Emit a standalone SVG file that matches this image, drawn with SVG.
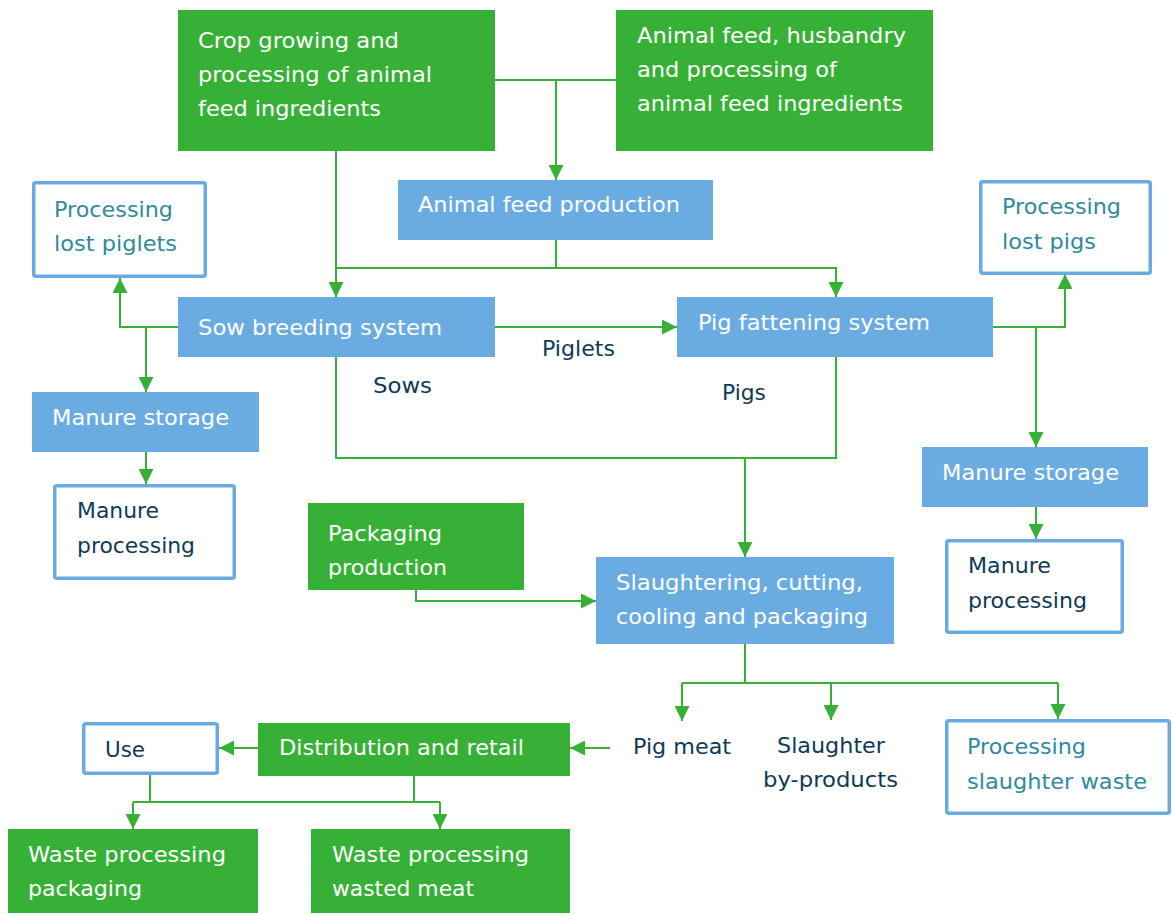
<svg xmlns="http://www.w3.org/2000/svg" width="1172" height="914" viewBox="0 0 1172 914">
  <style>
    text { font-family: "DejaVu Sans", Verdana, sans-serif; font-size: 22px; }
    .green { fill: #36b136; }
    .blue { fill: #6aace2; }
    .frame { fill: #ffffff; stroke: #6aaae2; stroke-width: 3.5; }
    .light { fill: #ffffff; }
    .teal { fill: #2e8a9c; }
    .navy { fill: #0e3a56; }
    .wire { fill: none; stroke: #36b136; stroke-width: 2; }
  </style>
  <defs>
    <marker id="head" viewBox="0 0 10 10" refX="10" refY="5" markerWidth="15" markerHeight="15" markerUnits="userSpaceOnUse" orient="auto">
      <path d="M0,0 L10,5 L0,10 z" fill="#36b136"/>
    </marker>
  </defs>
  <rect width="1172" height="914" fill="#ffffff"/>

  <!-- connectors -->
  <g id="connectors" class="wire">
    <path d="M495,80 H616"/>
    <path d="M556,80 V180" marker-end="url(#head)"/>
    <path d="M336,151 V297" marker-end="url(#head)"/>
    <path d="M556,240 V268"/>
    <path d="M336,268 H836 V297" marker-end="url(#head)"/>
    <path d="M495,327 H677" marker-end="url(#head)"/>
    <path d="M178,327 H120 V278" marker-end="url(#head)"/>
    <path d="M146,327 V392" marker-end="url(#head)"/>
    <path d="M146,452 V484" marker-end="url(#head)"/>
    <path d="M993,327 H1065 V274" marker-end="url(#head)"/>
    <path d="M1036,327 V447" marker-end="url(#head)"/>
    <path d="M1036,507 V539" marker-end="url(#head)"/>
    <path d="M336,357 V458 H836 V357"/>
    <path d="M745,458 V557" marker-end="url(#head)"/>
    <path d="M416,590 V601 H596" marker-end="url(#head)"/>
    <path d="M745,644 V683"/>
    <path d="M682,683 H1058"/>
    <path d="M682,683 V721" marker-end="url(#head)"/>
    <path d="M831,683 V720" marker-end="url(#head)"/>
    <path d="M1058,683 V719" marker-end="url(#head)"/>
    <path d="M610,748 H570" marker-end="url(#head)"/>
    <path d="M258,748 H219" marker-end="url(#head)"/>
    <path d="M150,775 V802"/>
    <path d="M414,776 V802"/>
    <path d="M133,802 H440"/>
    <path d="M133,802 V829" marker-end="url(#head)"/>
    <path d="M440,802 V829" marker-end="url(#head)"/>
  </g>

  <!-- nodes -->
  <g id="crop-growing">
    <rect class="green" x="178" y="10" width="317" height="141"/>
    <text class="light" x="198" y="48" textLength="201" lengthAdjust="spacingAndGlyphs">Crop growing and</text>
    <text class="light" x="198" y="82" textLength="234" lengthAdjust="spacingAndGlyphs">processing of animal</text>
    <text class="light" x="198" y="116" textLength="183" lengthAdjust="spacingAndGlyphs">feed ingredients</text>
  </g>
  <g id="animal-feed-husbandry">
    <rect class="green" x="616" y="10" width="317" height="141"/>
    <text class="light" x="637" y="43" textLength="269" lengthAdjust="spacingAndGlyphs">Animal feed, husbandry</text>
    <text class="light" x="637" y="77" textLength="200" lengthAdjust="spacingAndGlyphs">and processing of</text>
    <text class="light" x="637" y="111" textLength="266" lengthAdjust="spacingAndGlyphs">animal feed ingredients</text>
  </g>
  <g id="animal-feed-production">
    <rect class="blue" x="398" y="180" width="315" height="60"/>
    <text class="light" x="418" y="212" textLength="262" lengthAdjust="spacingAndGlyphs">Animal feed production</text>
  </g>
  <g id="lost-piglets">
    <rect class="frame" x="33.75" y="182.75" width="171.5" height="93.5" rx="2"/>
    <text class="teal" x="54" y="217" textLength="119" lengthAdjust="spacingAndGlyphs">Processing</text>
    <text class="teal" x="54" y="251" textLength="123" lengthAdjust="spacingAndGlyphs">lost piglets</text>
  </g>
  <g id="sow-breeding">
    <rect class="blue" x="178" y="297" width="317" height="60"/>
    <text class="light" x="198" y="335" textLength="244" lengthAdjust="spacingAndGlyphs">Sow breeding system</text>
  </g>
  <g id="pig-fattening">
    <rect class="blue" x="677" y="297" width="316" height="60"/>
    <text class="light" x="698" y="330" textLength="232" lengthAdjust="spacingAndGlyphs">Pig fattening system</text>
  </g>
  <g id="lost-pigs">
    <rect class="frame" x="980.75" y="181.75" width="169.5" height="91.5" rx="2"/>
    <text class="teal" x="1002" y="214" textLength="119" lengthAdjust="spacingAndGlyphs">Processing</text>
    <text class="teal" x="1002" y="249" textLength="94" lengthAdjust="spacingAndGlyphs">lost pigs</text>
  </g>
  <g id="flow-labels">
    <text class="navy" x="542" y="356" textLength="73" lengthAdjust="spacingAndGlyphs">Piglets</text>
    <text class="navy" x="373" y="393" textLength="59" lengthAdjust="spacingAndGlyphs">Sows</text>
    <text class="navy" x="722" y="400" textLength="44" lengthAdjust="spacingAndGlyphs">Pigs</text>
  </g>
  <g id="manure-storage-left">
    <rect class="blue" x="32" y="392" width="227" height="60"/>
    <text class="light" x="52" y="425" textLength="177" lengthAdjust="spacingAndGlyphs">Manure storage</text>
  </g>
  <g id="manure-processing-left">
    <rect class="frame" x="54.75" y="485.75" width="179.5" height="92.5" rx="2"/>
    <text class="navy" x="77" y="518" textLength="82" lengthAdjust="spacingAndGlyphs">Manure</text>
    <text class="navy" x="77" y="553" textLength="118" lengthAdjust="spacingAndGlyphs">processing</text>
  </g>
  <g id="manure-storage-right">
    <rect class="blue" x="922" y="447" width="226" height="60"/>
    <text class="light" x="942" y="480" textLength="177" lengthAdjust="spacingAndGlyphs">Manure storage</text>
  </g>
  <g id="manure-processing-right">
    <rect class="frame" x="946.75" y="540.75" width="175.5" height="91.5" rx="2"/>
    <text class="navy" x="968" y="573" textLength="83" lengthAdjust="spacingAndGlyphs">Manure</text>
    <text class="navy" x="968" y="608" textLength="119" lengthAdjust="spacingAndGlyphs">processing</text>
  </g>
  <g id="packaging-production">
    <rect class="green" x="308" y="503" width="216" height="87"/>
    <text class="light" x="328" y="541" textLength="114" lengthAdjust="spacingAndGlyphs">Packaging</text>
    <text class="light" x="328" y="575" textLength="119" lengthAdjust="spacingAndGlyphs">production</text>
  </g>
  <g id="slaughtering">
    <rect class="blue" x="596" y="557" width="298" height="87"/>
    <text class="light" x="616" y="590" textLength="247" lengthAdjust="spacingAndGlyphs">Slaughtering, cutting,</text>
    <text class="light" x="616" y="624" textLength="252" lengthAdjust="spacingAndGlyphs">cooling and packaging</text>
  </g>
  <g id="pig-meat">
    <text class="navy" x="633" y="754" textLength="98" lengthAdjust="spacingAndGlyphs">Pig meat</text>
  </g>
  <g id="slaughter-by-products">
    <text class="navy" x="777" y="753" textLength="108" lengthAdjust="spacingAndGlyphs">Slaughter</text>
    <text class="navy" x="763" y="787" textLength="135" lengthAdjust="spacingAndGlyphs">by-products</text>
  </g>
  <g id="slaughter-waste">
    <rect class="frame" x="946.75" y="720.75" width="222.5" height="92.5" rx="2"/>
    <text class="teal" x="967" y="754" textLength="119" lengthAdjust="spacingAndGlyphs">Processing</text>
    <text class="teal" x="967" y="789" textLength="180" lengthAdjust="spacingAndGlyphs">slaughter waste</text>
  </g>
  <g id="use">
    <rect class="frame" x="83.75" y="723.75" width="133.5" height="49.5" rx="2"/>
    <text class="navy" x="105" y="757" textLength="40" lengthAdjust="spacingAndGlyphs">Use</text>
  </g>
  <g id="distribution-retail">
    <rect class="green" x="258" y="723" width="312" height="53"/>
    <text class="light" x="279" y="755" textLength="245" lengthAdjust="spacingAndGlyphs">Distribution and retail</text>
  </g>
  <g id="waste-packaging">
    <rect class="green" x="8" y="829" width="250" height="84"/>
    <text class="light" x="28" y="862" textLength="198" lengthAdjust="spacingAndGlyphs">Waste processing</text>
    <text class="light" x="28" y="896" textLength="114" lengthAdjust="spacingAndGlyphs">packaging</text>
  </g>
  <g id="waste-meat">
    <rect class="green" x="311" y="829" width="259" height="84"/>
    <text class="light" x="332" y="862" textLength="197" lengthAdjust="spacingAndGlyphs">Waste processing</text>
    <text class="light" x="332" y="896" textLength="142" lengthAdjust="spacingAndGlyphs">wasted meat</text>
  </g>
</svg>
